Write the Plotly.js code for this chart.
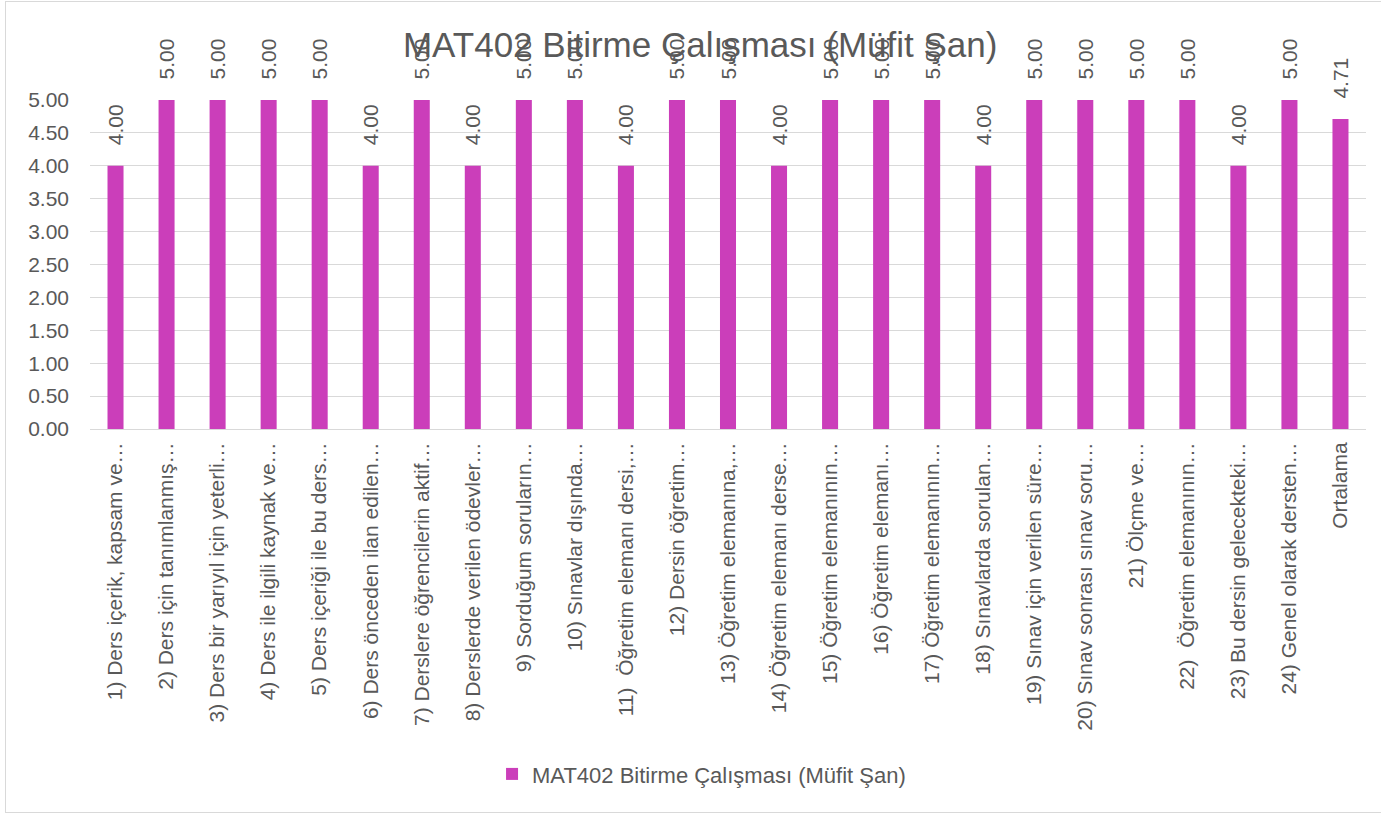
<!DOCTYPE html>
<html>
<head>
<meta charset="utf-8">
<script src="https://cdn.plot.ly/plotly-3.0.1.min.js"></script>
<style>
  html, body { margin: 0; padding: 0; background: #ffffff; }
  #frame { position: absolute; left: 5px; top: 1px; width: 1400px; height: 810px;
           border-left: 1px solid #d9d9d9; border-top: 1px solid #d9d9d9; border-bottom: 1px solid #d9d9d9; }
  #chart { position: absolute; left: 0; top: 0; width: 1381px; height: 814px; }
</style>
</head>
<body>
<div id="frame"></div>
<div id="chart"></div>
<script>
const chartTitle = 'MAT402 Bitirme Çalışması (Müfit Şan)';
const seriesName = 'MAT402 Bitirme Çalışması (Müfit Şan)';

const categories = [
  '1) Ders içerik, kapsam ve…',
  '2) Ders için tanımlanmış…',
  '3) Ders bir yarıyıl için yeterli…',
  '4) Ders ile ilgili kaynak ve…',
  '5) Ders içeriği ile bu ders…',
  '6) Ders önceden ilan edilen…',
  '7) Derslere öğrencilerin aktif…',
  '8) Derslerde verilen ödevler…',
  '9) Sorduğum soruların…',
  '10) Sınavlar dışında…',
  '11)  Öğretim elemanı dersi,…',
  '12) Dersin öğretim…',
  '13) Öğretim elemanına,…',
  '14) Öğretim elemanı derse…',
  '15) Öğretim elemanının…',
  '16) Öğretim elemanı…',
  '17) Öğretim elemanının…',
  '18) Sınavlarda sorulan…',
  '19) Sınav için verilen süre…',
  '20) Sınav sonrası sınav soru…',
  '21) Ölçme ve…',
  '22)  Öğretim elemanının…',
  '23) Bu dersin gelecekteki…',
  '24) Genel olarak dersten…',
  'Ortalama'
];

const values = [4, 5, 5, 5, 5, 4, 5, 4, 5, 5, 4, 5, 5, 4, 5, 5, 5, 4, 5, 5, 5, 5, 4, 5, 4.71];

const yTickVals = [0, 0.5, 1, 1.5, 2, 2.5, 3, 3.5, 4, 4.5, 5];

const FONT = 'Liberation Sans, Arial, sans-serif';
const GREY = '#595959';

const trace = {
  type: 'bar',
  name: seriesName,
  x: categories,
  y: values,
  marker: { color: '#CB3EBA' },
  texttemplate: '\u00a0\u00a0\u00a0%{y:.2f}',
  textposition: 'outside',
  textangle: -90,
  constraintext: 'none',
  textfont: { family: FONT, size: 21, color: GREY },
  cliponaxis: false,
  hoverinfo: 'x+y'
};

const layout = {
  width: 1381,
  height: 814,
  margin: { l: 90, r: 15, t: 100, b: 385 },
  paper_bgcolor: 'rgba(0,0,0,0)',
  plot_bgcolor: 'rgba(0,0,0,0)',
  font: { family: FONT, color: GREY, size: 21 },
  title: {
    text: chartTitle,
    font: { family: FONT, size: 35, color: GREY },
    x: 0.507, xanchor: 'center', xref: 'container',
    y: 0.945, yanchor: 'middle', yref: 'container'
  },
  bargap: 0.686,
  showlegend: true,
  legend: {
    orientation: 'h',
    x: 0.508, xanchor: 'center', xref: 'container',
    y: 0.049, yanchor: 'middle', yref: 'container',
    font: { family: FONT, size: 22, color: GREY }
  },
  xaxis: {
    type: 'category',
    tickangle: -90,
    showgrid: false,
    showline: true,
    linecolor: '#d9d9d9',
    linewidth: 1,
    ticks: '',
    ticklabelstandoff: 4,
    tickfont: { family: FONT, size: 21, color: GREY },
    automargin: false
  },
  yaxis: {
    range: [0, 5],
    tickvals: yTickVals,
    tickformat: '.2f',
    showgrid: true,
    gridcolor: '#d9d9d9',
    gridwidth: 1,
    zeroline: false,
    showline: false,
    ticks: '',
    ticklabelstandoff: 20,
    tickfont: { family: FONT, size: 21, color: GREY },
    automargin: false
  }
};

Plotly.newPlot('chart', [trace], layout, { displayModeBar: false, staticPlot: true });
</script>
</body>
</html>
